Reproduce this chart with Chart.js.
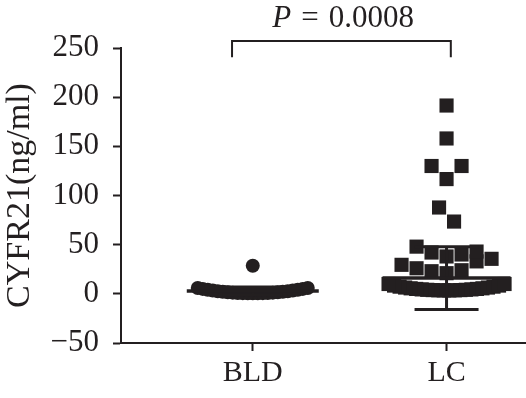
<!DOCTYPE html>
<html>
<head>
<meta charset="utf-8">
<script src="https://cdn.jsdelivr.net/npm/chart.js@4.4.1/dist/chart.umd.min.js"></script>
<style>
  html, body { margin: 0; padding: 0; background: #fff; }
  #wrap { width: 526px; height: 398px; position: relative; }
</style>
</head>
<body>
<div id="wrap"><canvas id="chart"></canvas></div>
<script>
// CYFR21 serum levels, BLD vs LC (scatter dot plot, mean +/- SD)
const categories = ['BLD', 'LC'];

// listed low -> high inside each row so the swarm fans out like the original
const bldValues = [0.5, 0.5, 0.6, 0.7, 0.7, 0.9, 0.9, 1.2, 1.2, 1.6, 1.6, 2.1, 2.1,
    2.7, 2.7, 3.4, 3.4, 4.2, 4.2, 5.0, 5.0, 6.0, 6.0, 28.5];
const lcValues = [3.5, 3.5, 3.6, 3.6, 3.8, 3.8, 4.1, 4.1, 4.5, 4.5, 5.0, 5.0, 5.6, 5.6,
    6.4, 6.4, 7.3, 7.3, 8.4, 8.4, 10.0, 10.0,
    21, 24, 23, 33, 26, 35.6, 29.5,
    38, 40, 42, 43, 48,
    73.5, 87.8,
    116.7, 130, 130,
    158, 191.5];

const groupMeans = [3, 16];
const groupSds = [4, 32];
const yTickValues = [-50, 0, 50, 100, 150, 200, 250];
const pValueText = '0.0008';

const INK = '#231f20';
const FONT = '"Liberation Serif", "Times New Roman", serif';

// simple row-based swarm: values closer than rowHeight share a row, row members
// are spread symmetrically (in array order: centre, right, left, ...)
function swarmOffsets(values, rowHeight, maxStep, maxHalf) {
    const order = values.map((v, i) => i).sort((a, b) => values[a] - values[b]);
    const rows = [];
    let row = null;
    order.forEach(i => {
        if (!row || values[i] - row.start > rowHeight) {
            row = { start: values[i], items: [] };
            rows.push(row);
        }
        row.items.push(i);
    });
    const offsets = new Array(values.length).fill(0);
    rows.forEach(r => {
        const items = r.items.slice().sort((a, b) => a - b);
        const n = items.length;
        const step = n > 1 ? Math.min(maxStep, 2 * maxHalf / (n - 1)) : 0;
        const slots = [];
        for (let j = 0; j < n; j++) slots.push((j - (n - 1) / 2) * step);
        slots.sort((a, b) => Math.abs(a) - Math.abs(b) || b - a);
        items.forEach((idx, k) => { offsets[idx] = slots[k]; });
    });
    return offsets;
}

function toPoints(values, xPos, offsets) {
    return values.map((v, i) => ({ x: xPos + (offsets ? offsets[i] : 0), y: v }));
}

// mean line + SD whiskers
const summaryPlugin = {
    id: 'summary',
    afterDatasetsDraw(chart) {
        const { ctx, scales: { x, y } } = chart;
        const meanHalf = [66, 64];
        const capHalf = [30, 32];
        ctx.save();
        ctx.strokeStyle = INK;
        categories.forEach((c, i) => {
            const cx = x.getPixelForValue(i + 1);
            const ym = y.getPixelForValue(groupMeans[i]);
            const yHi = y.getPixelForValue(groupMeans[i] + groupSds[i]);
            const yLo = y.getPixelForValue(groupMeans[i] - groupSds[i]);
            ctx.lineWidth = 3;
            ctx.beginPath();
            ctx.moveTo(cx, yHi); ctx.lineTo(cx, yLo);
            ctx.moveTo(cx - capHalf[i], yHi); ctx.lineTo(cx + capHalf[i], yHi);
            ctx.moveTo(cx - capHalf[i], yLo); ctx.lineTo(cx + capHalf[i], yLo);
            ctx.stroke();
            ctx.lineWidth = 3.5;
            ctx.beginPath();
            ctx.moveTo(cx - meanHalf[i], ym); ctx.lineTo(cx + meanHalf[i], ym);
            ctx.stroke();
        });
        ctx.restore();
    }
};

// significance bracket with P value
const bracketPlugin = {
    id: 'bracket',
    afterDraw(chart) {
        const { ctx, scales: { x, y } } = chart;
        const x0 = x.getPixelForValue(0.893);
        const x1 = x.getPixelForValue(2.022);
        const yTop = y.getPixelForValue(257.2);
        const yLeg = y.getPixelForValue(240.6);
        ctx.save();
        ctx.strokeStyle = INK;
        ctx.lineWidth = 2;
        ctx.beginPath();
        ctx.moveTo(x0, yLeg); ctx.lineTo(x0, yTop); ctx.lineTo(x1, yTop); ctx.lineTo(x1, yLeg);
        ctx.stroke();

        // "P = 0.0008" with math-style spacing round "="
        const size = 31;
        const italic = 'italic ' + size + 'px ' + FONT;
        const normal = size + 'px ' + FONT;
        const gap = 10;
        ctx.font = italic;
        const wP = ctx.measureText('P').width;
        ctx.font = normal;
        const wEq = ctx.measureText('=').width;
        const wNum = ctx.measureText(pValueText).width;
        const total = wP + gap + wEq + gap + wNum;
        const cx = x.getPixelForValue(1.466);
        const base = y.getPixelForValue(271);
        const start = cx - total / 2;
        ctx.fillStyle = INK;
        ctx.textBaseline = 'alphabetic';
        ctx.textAlign = 'left';
        ctx.font = italic;
        ctx.fillText('P', start, base);
        ctx.font = normal;
        ctx.fillText('=', start + wP + gap, base);
        ctx.fillText(pValueText, start + wP + gap + wEq + gap, base);
        ctx.restore();
    }
};

const chart = new Chart(document.getElementById('chart'), {
    type: 'scatter',
    data: {
        datasets: [{
            label: 'BLD',
            data: toPoints(bldValues, 1),
            pointStyle: 'circle',
            radius: 7,
            hoverRadius: 7,
            backgroundColor: INK,
            borderWidth: 0
        }, {
            label: 'LC',
            data: toPoints(lcValues, 2),
            pointStyle: 'rect',
            radius: 10,
            hoverRadius: 10,
            backgroundColor: INK,
            borderWidth: 0
        }]
    },
    options: {
        responsive: true,
        maintainAspectRatio: false,
        animation: false,
        events: [],
        layout: { autoPadding: false, padding: { top: 48, right: 0, bottom: 0, left: 0 } },
        plugins: {
            legend: { display: false },
            tooltip: { enabled: false }
        },
        scales: {
            x: {
                type: 'linear',
                min: 0.32,
                max: 2.41,
                afterBuildTicks: s => { s.ticks = categories.map((c, i) => ({ value: i + 1 })); },
                afterFit: s => { s.height = 55; s.paddingLeft = 0; s.paddingRight = 0; },
                grid: { drawOnChartArea: false, tickLength: 8, tickWidth: 2, tickColor: INK },
                border: { color: INK, width: 2 },
                ticks: {
                    callback: v => categories[v - 1],
                    color: INK,
                    font: { family: FONT, size: 30 },
                    padding: 4,
                    maxRotation: 0,
                    autoSkip: false
                }
            },
            y: {
                min: -50,
                max: 250,
                afterBuildTicks: s => { s.ticks = yTickValues.map(v => ({ value: v })); },
                afterFit: s => { s.width = 121; },
                grid: { drawOnChartArea: false, tickLength: 8, tickWidth: 2, tickColor: INK },
                border: { color: INK, width: 2 },
                title: {
                    display: true,
                    text: 'CYFR21(ng/ml)',
                    color: INK,
                    font: { family: FONT, size: 34 },
                    padding: { top: 0, bottom: 0 }
                },
                ticks: {
                    callback: v => v < 0 ? '\u2212' + Math.abs(v) : String(v),
                    color: INK,
                    font: { family: FONT, size: 31 },
                    padding: 14
                }
            }
        }
    },
    plugins: [summaryPlugin, bracketPlugin]
});

// spread the dots once the x scale is known
const xs = chart.scales.x;
const pxPerUnit = (xs.right - xs.left) / (xs.max - xs.min);
const toUnits = arr => arr.map(o => o / pxPerUnit);
chart.data.datasets[0].data = toPoints(bldValues, 1, toUnits(swarmOffsets(bldValues, 16, 15, 55)));
chart.data.datasets[1].data = toPoints(lcValues, 2, toUnits(swarmOffsets(lcValues, 16, 15, 58)));
chart.update('none');
</script>
</body>
</html>
